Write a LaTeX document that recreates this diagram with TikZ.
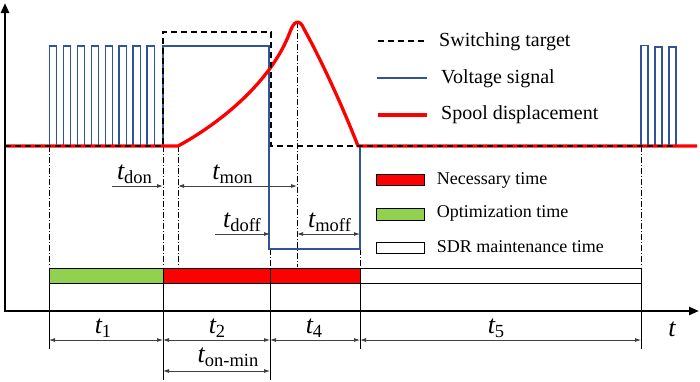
\documentclass[tikz,border=0pt]{standalone}
\usepackage{fontspec}
\setmainfont{Liberation Serif}
\usetikzlibrary{arrows.meta}
\definecolor{vblue}{RGB}{47,85,151}
\definecolor{sred}{RGB}{255,0,0}
\definecolor{ogreen}{RGB}{146,208,80}
\newcommand{\tsym}[1]{{\fontsize{26}{26}\selectfont\itshape t}\raisebox{-4pt}{\fontsize{18.5}{18.5}\selectfont #1}}
\begin{document}
\begin{tikzpicture}[x=1pt,y=-1pt,
  axisline/.style={line width=2.5pt, {Triangle[length=10pt,width=8pt]}-{Triangle[length=10pt,width=8pt]}},
  volt/.style={vblue, line width=1.2pt},
  spool/.style={sred, line width=3.3pt, line join=round},
  target/.style={black, line width=2pt, dash pattern=on 6pt off 4pt},
  guide/.style={black, line width=0.6pt, dash pattern=on 6pt off 2pt on 1pt off 2pt},
  dimboth/.style={black!75, line width=0.8pt, {Latex[length=6pt,width=4pt]}-{Latex[length=6pt,width=4pt]}},
  dimright/.style={black!75, line width=0.8pt, -{Latex[length=6pt,width=4pt]}},
  barbox/.style={draw=black, line width=1pt},
  edgeline/.style={black, line width=1pt},
  legtxt/.style={font=\fontsize{20}{20}\selectfont, anchor=base west, inner sep=0pt},
  legtxtb/.style={font=\fontsize{18}{18}\selectfont, anchor=base west, inner sep=0pt},
  tlab/.style={anchor=base, inner sep=0pt}]
\useasboundingbox (0,0) rectangle (700,381);

% bars
\fill[ogreen] (49,268) rectangle (163,283);
\fill[sred] (163,268) rectangle (360,283);
\draw[barbox] (49,268) rectangle (641,283);
\foreach \xx in {163,270,360} \draw[edgeline] (\xx,268) -- (\xx,283);

% solid verticals below bars
\draw[edgeline] (49,283) -- (49,349);
\draw[edgeline] (163,283) -- (163,380);
\draw[edgeline] (270,283) -- (270,380);
\draw[edgeline] (360,283) -- (360,349);
\draw[edgeline] (641,283) -- (641,349);

% guide dash-dot lines
\draw[guide] (49,146) -- (49,267);
\draw[guide] (163,146) -- (163,267);
\draw[guide] (178,146) -- (178,267);
\draw[guide] (297,22) -- (297,267);
\draw[guide] (270,249) -- (270,267);
\draw[guide] (360,249) -- (360,267);
\draw[guide] (641,146) -- (641,267);

% voltage signal
\foreach \i in {0,...,7} {
  \pgfmathsetmacro\xa{49.3+13.95*\i}
  \draw[volt] (\xa,146) -- (\xa,46) -- (\xa+7.2,46) -- (\xa+7.2,146);
}
\draw[volt] (154,146) -- (163,146) -- (163,46) -- (269,46) -- (269,249) -- (360,249) -- (360,146);
\draw[volt] (641,146) -- (641,45.5) -- (648,45.5) -- (648,146) -- (655,146) -- (655,47) -- (662,47) -- (662,146) -- (669,146) -- (669,47) -- (676,47) -- (676,146);

% spool displacement
\draw[spool] (5,146) -- (178,146) .. controls (215,126) and (270,85) .. (290,32) .. controls (294,20) and (300,19) .. (304,29) .. controls (318,54) and (340,100) .. (358,146) -- (697,146);

% switching target
\draw[target] (5,146) -- (163,146) -- (163,32) -- (271,32) -- (271,146) -- (677,146);

% axes
\draw[axisline] (5,3) -- (5,311) -- (699,311);

% dimension arrows
\draw[dimright] (112,186) -- (163,186);
\draw[dimboth] (178,186) -- (297,186);
\draw[dimright] (215,234) -- (270,234);
\draw[dimboth] (297,234) -- (360,234);
\draw[dimboth] (49,340) -- (163,340);
\draw[dimboth] (163,340) -- (270,340);
\draw[dimboth] (270,340) -- (360,340);
\draw[dimboth] (360,340) -- (641,340);
\draw[dimboth] (163,371) -- (270,371);

% labels
\node[tlab] (ldon) at (134.5,179.3) {\tsym{don}};
\node[tlab] (lmon) at (232.5,179.3) {\tsym{mon}};
\node[tlab] (ldoff) at (242,227.3) {\tsym{doff}};
\node[tlab] (lmoff) at (329.5,227.3) {\tsym{moff}};
\node[tlab] (lt1) at (103,333) {\tsym{1}};
\node[tlab] (lt2) at (217,333) {\tsym{2}};
\node[tlab] (lt4) at (314,333) {\tsym{4}};
\node[tlab] (lt5) at (496,333) {\tsym{5}};
\node[tlab] (lonmin) at (228,362) {\tsym{on-min}};
\node[tlab, font=\fontsize{26}{26}\selectfont\itshape] (lt) at (672,336) {t};

% legend
\draw[target] (378,41) -- (425,41);
\draw[volt] (377,78) -- (427,78);
\draw[spool] (378,115) -- (427,115);
\node[legtxt] (lg1) at (439,46) {Switching target};
\node[legtxt] (lg2) at (441,83.3) {Voltage signal};
\node[legtxt] (lg3) at (441,119.3) {Spool displacement};

\filldraw[fill=sred, barbox] (376,174.3) rectangle (424,185.7);
\filldraw[fill=ogreen, barbox] (376,208.3) rectangle (424,220);
\filldraw[fill=white, barbox] (376,242) rectangle (424,253.3);
\node[legtxtb] (lg4) at (436.7,184.3) {Necessary time};
\node[legtxtb] (lg5) at (436.7,217.7) {Optimization time};
\node[legtxtb] (lg6) at (436.7,252.3) {SDR maintenance time};
\end{tikzpicture}
\end{document}
